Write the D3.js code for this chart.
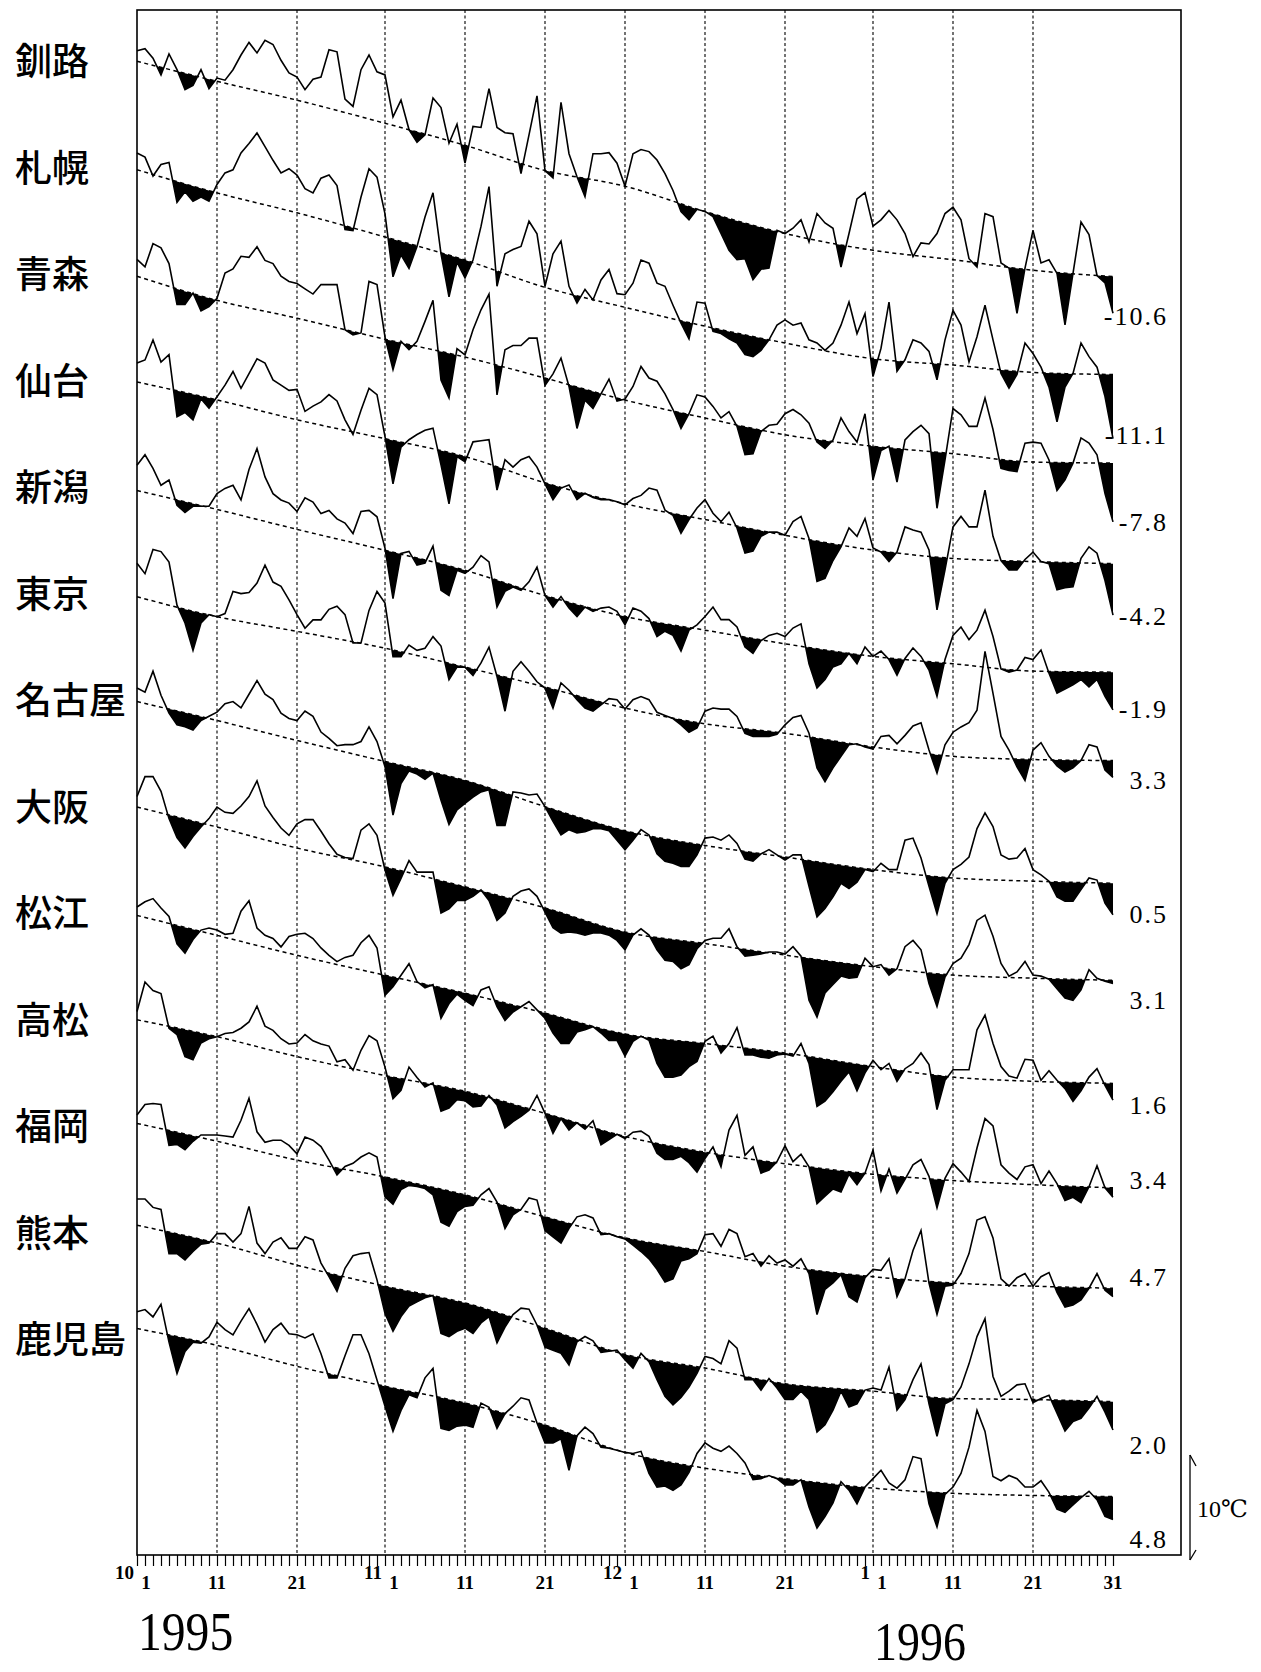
<!DOCTYPE html>
<html><head><meta charset="utf-8">
<script src="https://cdn.jsdelivr.net/npm/d3@7/dist/d3.min.js"></script>
<style>body{margin:0;background:#fff}</style>
</head><body>
<svg id="c" width="1261" height="1672"></svg>
<script>
// ---------------- DATA (daily mean temperature, °C, 1995-10-01 .. 1996-01-31) ----------------
const stations = ["釧路","札幌","青森","仙台","新潟","東京","名古屋","大阪","松江","高松","福岡","熊本","鹿児島"];
const endLabels = ["-10.6","-11.1","-7.8","-4.2","-1.9","3.3","0.5","3.1","1.6","3.4","4.7","2.0","4.8"];
const monthLabels = ["10","11","12","1"];
const monthStartDays = [0,31,61,92];
const dayTickLabels = ["1","11","21","1","11","21","1","11","21","1","11","21","31"];
const dayTickDays = [0,10,20,31,41,51,61,71,81,92,102,112,122];
const yearLabels = ["1995","1996"];
const normalDays = [0,10,20,31,41,51,61,71,81,92,102,112,122];

const kushiro = [14.4,14.6,13.7,12.1,14.1,12.6,10.7,11.1,12.6,10.8, 11.8,11.6,12.6,14.0,15.2,14.2,15.4,15.0,13.5,12.3, 11.9,10.7,11.7,11.9,14.5,14.3,9.8,9.1,12.6,14.0, 12.4,12.1,8.1,9.7,6.9,5.7,6.4,9.9,9.0,5.6, 7.4,3.7,7.2,7.1,10.8,7.1,6.6,6.5,2.7,6.4, 10.1,3.0,2.3,9.5,4.6,2.4,0.5,4.6,4.6,4.7, 3.7,1.5,4.6,5.0,4.8,4.0,2.7,1.1,-0.9,-1.7, -0.7,-0.9,-1.4,-3.0,-4.6,-5.5,-5.4,-7.4,-6.4,-6.3, -2.7,-3.0,-2.5,-1.7,-3.8,-1.1,-2.0,-2.5,-6.2,-3.0, 0.3,0.9,-2.3,-1.7,-0.8,-1.7,-3.0,-5.2,-3.9,-4.0, -3.0,-1.1,-0.5,-1.7,-5.4,-6.2,-1.1,-1.4,-5.8,-6.3, -10.6,-6.3,-2.7,-5.8,-5.5,-6.8,-11.7,-6.8,-1.9,-3.1, -7.0,-7.7,-10.6];
const sapporo = [16.1,15.7,13.9,15.0,15.2,11.4,12.4,11.5,11.9,11.5, 13.1,14.2,14.5,16.1,17.0,18.0,16.7,15.4,14.2,14.6, 14.0,12.7,12.3,13.7,14.0,13.0,8.8,8.7,11.9,14.6, 13.8,10.3,4.3,6.4,5.1,7.2,10.0,12.3,6.5,2.4, 5.7,4.2,5.9,9.1,12.9,3.4,6.5,6.9,7.2,9.6, 8.4,3.4,6.5,7.7,3.4,1.8,3.1,2.1,4.0,5.0, 2.7,2.6,3.7,5.9,5.6,3.7,3.4,1.6,-0.1,-1.6, 1.9,1.8,-0.9,-1.1,-1.6,-2.0,-3.1,-3.3,-2.7,-1.7, -0.3,0.2,-0.3,-0.1,-1.7,-2.0,-2.7,-2.0,-0.3,1.9, -1.1,0.8,-5.2,-2.5,1.9,-4.7,-3.6,-1.7,-2.0,-2.8, -5.5,-1.7,1.1,-0.3,-3.8,-1.4,1.6,-1.7,-4.9,-6.3, -5.0,-2.0,-3.0,-4.3,-6.2,-9.5,-6.2,-4.9,-2.0,-3.3, -4.3,-7.1,-11.1];
const aomori = [17.2,16.5,18.7,18.3,16.8,12.9,12.9,14.0,12.3,12.7, 13.5,15.9,16.3,17.5,17.4,18.4,17.1,16.8,15.6,15.1, 14.9,14.4,13.9,14.8,14.8,14.8,10.5,10.0,10.2,15.1, 14.8,9.8,6.7,9.4,8.6,9.4,11.3,13.3,5.7,4.0, 8.7,8.1,10.5,12.4,13.9,4.3,8.6,9.0,9.0,9.7, 9.7,5.2,6.3,7.8,5.1,1.1,3.8,3.0,4.4,5.8, 3.7,3.9,5.1,7.0,5.9,5.6,4.4,2.9,1.1,2.5, 4.3,4.1,3.2,2.1,2.7,1.3,-1.4,-1.3,0.8,1.4, 1.5,2.5,2.9,2.4,1.6,-0.2,-0.8,0.0,2.1,0.8, -0.2,2.5,-3.8,-1.0,-0.6,-4.0,0.0,0.8,1.4,0.6, -6.5,-1.9,3.0,2.4,1.3,1.3,4.0,1.0,-2.7,-2.9, -3.0,-0.3,-0.2,-0.3,-1.9,-4.8,-3.8,-2.2,0.2,-0.3, -1.4,-5.1,-7.8];
const sendai = [19.8,20.1,22.0,19.9,20.6,14.7,15.1,14.4,16.4,15.5, 16.6,17.7,19.0,17.4,18.8,20.2,19.8,18.2,17.7,17.2, 17.3,15.2,15.7,16.1,16.8,16.2,14.4,13.0,15.3,17.4, 16.8,12.8,8.3,11.8,12.5,13.0,13.4,13.6,10.1,6.4, 10.9,10.4,12.3,12.4,12.5,7.7,10.6,9.9,10.6,10.9, 9.9,8.3,6.8,7.9,8.2,6.8,7.4,7.0,6.8,6.8, 6.6,6.3,6.9,7.2,7.9,7.7,5.8,5.3,3.6,4.9, 6.0,6.8,5.5,4.7,5.6,4.1,1.7,1.9,3.3,3.7, 3.7,3.4,4.7,5.2,3.1,-1.0,-0.7,1.0,2.3,4.1, 3.3,5.0,2.2,1.8,0.9,1.8,4.2,3.9,3.7,2.0, -3.7,0.1,4.2,5.2,4.2,4.2,7.7,3.3,1.0,0.1, 0.1,1.1,1.8,0.9,0.7,-1.8,-1.6,-1.5,1.2,2.3, 1.7,-0.9,-4.2];
const niigata = [21.4,22.4,21.1,19.5,20.0,17.6,16.9,17.5,17.5,17.5, 18.7,19.2,19.5,18.1,21.0,23.0,20.3,18.7,18.1,17.8, 17.0,18.3,17.9,16.8,17.1,16.3,15.9,14.9,17.0,17.1, 16.5,13.5,8.7,13.0,13.2,11.9,12.1,13.7,9.5,9.0, 11.4,11.1,11.7,12.8,12.2,7.9,9.4,9.8,9.5,10.3, 11.7,9.0,7.9,8.9,7.8,7.0,7.9,7.5,7.8,7.9, 7.5,6.2,7.8,7.5,6.8,5.1,5.6,5.2,3.7,5.7, 6.2,7.0,7.9,6.7,6.7,6.0,4.1,3.5,4.7,5.2, 5.4,5.1,5.9,6.3,2.5,0.2,1.0,2.2,2.5,3.5, 2.5,4.1,3.2,3.7,2.9,1.4,3.0,4.0,3.2,1.9, -0.6,2.9,5.2,6.0,4.8,5.7,7.6,5.1,2.0,1.7, 1.9,3.1,2.9,3.8,1.6,-0.3,0.1,0.5,1.0,0.3, 1.0,-0.6,-1.9];
const tokyo = [23.7,22.7,25.0,24.8,23.8,19.7,18.0,15.4,18.0,18.8, 18.6,18.9,21.0,20.8,20.9,21.8,23.5,21.9,21.5,20.2, 18.8,17.5,18.3,18.3,19.3,19.6,18.8,16.1,16.1,19.2, 21.0,19.9,14.8,14.8,15.9,15.4,15.6,16.7,15.8,12.6, 13.8,13.8,13.0,14.2,15.7,12.9,9.6,13.4,14.3,13.4, 12.4,11.8,9.9,12.3,11.6,10.7,9.9,9.6,10.2,10.8, 10.7,9.8,10.7,11.0,10.7,9.5,9.2,8.9,8.3,7.6, 8.0,9.6,9.9,9.8,9.8,9.1,7.5,7.2,7.2,7.2, 7.4,8.3,9.0,9.2,7.5,4.2,2.9,4.2,5.3,6.4, 6.5,6.2,6.0,7.2,7.3,6.5,7.3,8.2,8.5,5.9, 3.7,6.4,7.6,8.1,8.5,9.7,15.3,11.3,7.2,5.9, 4.3,3.0,5.9,6.6,5.3,4.4,3.8,4.2,4.9,6.4, 6.2,4.0,3.3];
const nagoya = [22.1,21.7,23.7,21.4,19.7,18.6,18.4,18.1,19.0,19.4, 19.8,20.6,20.8,20.2,21.5,22.8,21.5,21.0,19.7,19.2, 19.0,19.9,19.4,17.9,17.3,16.6,16.7,16.7,17.0,18.4, 17.0,14.6,10.0,13.0,14.2,13.9,13.4,14.0,11.4,9.1, 10.5,11.1,11.7,12.2,12.4,9.0,9.0,12.2,12.1,11.9, 12.0,10.8,9.4,8.1,8.6,8.3,8.4,8.7,8.7,8.5, 7.6,6.7,7.6,8.6,8.1,6.3,5.6,5.4,5.1,5.1, 6.2,7.8,7.9,7.6,8.1,7.3,5.8,5.6,6.3,6.7, 6.2,5.7,6.2,6.2,3.2,0.3,1.1,2.2,3.5,3.0, 3.6,4.8,4.6,5.4,4.8,4.8,7.6,7.8,5.9,3.2, 0.6,3.5,4.8,5.3,6.0,8.7,10.2,8.9,6.2,5.8, 5.9,6.8,4.8,4.3,3.7,2.2,1.8,1.8,2.9,4.0, 3.8,1.6,0.5];
const osaka = [20.9,22.8,22.8,21.4,18.8,17.0,16.0,17.1,18.0,18.8, 19.9,19.4,19.3,20.0,20.9,22.4,20.0,18.9,17.9,17.2, 18.3,18.7,18.7,17.6,16.4,15.4,15.1,15.0,17.7,18.3, 17.2,13.9,11.5,13.1,14.8,13.7,13.7,13.7,9.8,10.2, 11.0,11.0,11.4,12.0,11.0,9.1,9.8,11.4,11.9,12.1, 11.4,9.9,8.4,7.9,8.0,7.9,7.7,7.9,7.9,7.7, 7.2,6.3,7.7,8.3,7.7,6.3,5.3,5.2,4.5,4.9, 6.4,7.2,7.4,7.4,8.3,6.6,5.7,5.8,5.9,6.1, 6.1,5.9,6.6,5.7,1.5,-0.1,2.2,3.0,3.8,3.6, 3.7,5.5,4.7,4.9,3.9,4.5,6.6,7.2,6.3,3.1, 0.9,3.7,5.0,5.5,6.8,9.1,9.6,7.6,5.0,3.8, 4.2,5.2,3.9,3.8,3.5,2.6,1.7,1.5,2.5,4.4, 3.6,3.3,3.1];
const matsue = [20.0,20.5,20.8,19.9,19.1,16.5,15.6,16.9,17.8,18.0, 17.8,17.4,17.5,19.6,20.6,18.0,17.3,17.0,16.2,17.2, 17.4,17.5,17.0,16.1,15.4,14.8,15.2,15.4,16.6,17.3, 16.1,11.6,12.4,13.5,14.6,12.9,12.3,12.6,9.4,10.8, 11.7,11.1,10.6,12.1,12.4,10.5,9.2,10.0,10.5,11.0, 10.2,9.4,8.0,7.0,7.0,8.1,8.3,8.6,8.0,7.3, 7.3,5.8,7.2,7.7,7.3,5.1,3.8,3.8,4.0,4.8, 5.3,7.2,7.7,6.1,7.0,8.5,5.9,5.9,5.7,5.6, 5.9,6.0,5.8,7.0,5.1,1.0,1.5,2.4,3.4,4.3, 2.5,4.2,5.4,4.5,5.1,3.4,4.6,5.1,6.1,5.0, 0.7,3.5,4.5,4.5,4.5,8.3,9.7,7.0,4.8,3.9, 3.7,5.5,5.4,3.5,4.4,3.5,2.7,1.5,2.5,3.8, 4.6,3.0,1.6];
const takamatsu = [21.1,23.9,23.1,22.8,19.5,18.9,16.8,16.5,18.1,18.5, 18.7,19.0,19.1,19.5,20.1,21.6,19.7,19.3,18.5,18.0, 18.1,18.9,18.3,18.0,17.8,16.3,16.5,15.5,17.4,18.8, 18.3,15.8,12.8,13.6,15.8,14.8,13.9,14.3,11.6,11.9, 12.7,12.6,12.0,12.1,13.1,12.2,10.0,10.6,11.1,11.7, 13.1,11.4,9.5,10.9,9.8,10.5,9.9,10.7,8.4,8.9, 9.4,9.0,9.6,9.7,9.2,7.6,7.0,7.0,7.3,6.7, 5.8,7.1,8.2,6.3,9.8,11.2,7.4,8.2,5.7,6.0, 6.8,8.3,6.8,7.5,6.3,2.8,3.5,4.2,3.9,5.6, 4.6,5.7,7.9,4.0,6.1,3.8,5.1,6.5,7.0,5.4, 2.4,5.2,6.6,5.8,4.9,8.1,10.9,10.2,6.5,5.7, 5.1,6.3,6.5,4.7,5.9,4.7,3.1,3.4,2.9,4.4, 6.4,4.3,3.4];
const fukuoka = [22.0,23.0,23.1,23.0,19.1,19.2,18.7,19.5,20.1,20.1, 20.1,20.0,19.9,21.5,23.6,20.4,19.4,19.6,19.6,19.1, 18.3,19.9,19.6,19.0,17.7,16.3,17.1,17.4,18.0,18.4, 18.0,14.2,13.5,14.9,15.3,15.2,15.0,14.4,11.8,11.4, 12.8,13.3,13.4,14.4,15.0,13.7,11.2,12.5,13.0,14.1, 13.9,11.0,10.4,9.8,11.2,12.3,12.5,12.2,10.6,10.7, 10.4,10.2,9.6,9.0,8.3,7.3,6.1,6.4,8.1,8.3, 8.8,10.6,10.7,9.5,11.1,10.7,8.5,8.8,7.6,8.6, 7.9,8.2,7.6,8.3,6.9,3.0,5.4,6.0,6.8,4.7, 4.2,6.5,7.3,7.2,8.3,4.7,6.4,9.1,11.0,6.0, 3.0,5.7,5.8,6.9,8.8,12.0,12.3,10.3,6.4,5.7, 6.5,6.9,5.7,6.6,7.0,5.1,3.7,3.9,4.4,5.5, 6.9,5.3,4.7];
const kumamoto = [24.0,24.0,23.2,23.0,18.8,18.8,18.2,19.0,19.7,19.8, 20.7,20.7,19.9,20.7,23.3,19.8,18.8,19.9,20.3,19.3, 19.3,20.4,20.1,17.9,16.6,15.2,17.4,18.6,18.8,18.9, 16.3,13.1,11.4,12.8,13.8,14.2,14.6,14.8,11.2,10.9, 11.4,11.7,11.2,12.2,12.8,10.3,11.8,13.0,13.6,13.5, 12.0,9.9,9.6,9.3,8.2,10.4,10.9,10.5,9.4,9.5, 9.6,8.7,7.9,9.3,8.5,6.8,5.2,4.4,5.1,6.1, 7.4,9.0,8.8,8.3,10.5,9.8,6.8,6.8,5.8,6.9, 6.0,4.9,4.9,5.7,4.9,1.8,2.5,3.9,5.7,4.2, 4.5,5.8,6.0,5.8,8.0,3.9,4.9,6.8,8.3,4.5, 1.4,4.5,4.9,6.1,8.3,10.9,12.6,7.1,5.2,5.7, 6.3,6.4,4.6,5.0,5.3,3.6,1.9,2.8,3.1,4.1, 5.2,3.7,2.0];
const kagoshima = [24.6,24.8,24.1,25.3,21.7,18.7,20.8,21.7,21.6,22.2, 23.6,22.9,22.4,23.7,24.9,23.4,21.7,22.9,23.5,22.5, 22.4,22.1,22.5,20.6,18.3,18.3,20.4,22.4,22.4,20.6, 18.1,15.6,13.2,15.2,16.7,16.4,18.3,19.2,13.5,13.3, 13.7,13.8,13.6,15.9,15.5,13.5,14.9,15.6,16.4,16.2, 14.0,12.1,12.1,12.5,9.5,12.8,13.6,13.0,11.7,11.6, 11.4,11.2,11.1,11.3,9.2,7.9,8.0,7.6,8.1,9.3, 11.1,12.1,11.6,11.3,11.8,11.1,10.2,8.6,8.7,9.0, 8.7,8.1,8.1,8.6,6.0,4.0,5.1,6.4,8.4,7.6, 6.3,7.9,8.7,9.5,8.3,7.8,8.6,10.8,10.6,6.3, 4.1,7.2,7.9,9.2,11.7,15.2,13.2,8.9,8.5,9.0, 8.7,7.9,7.9,8.5,7.4,5.8,5.5,6.2,6.9,7.5, 6.7,5.1,4.8];

// normals (°C) at normalDays
const normKushiro   = [13.4,11.5,9.7,7.5,5.4,3.0,1.5,-0.9,-3.0,-4.6,-5.5,-6.5,-7.1];
const normSapporo   = [14.5,12.3,10.4,8.1,5.9,3.3,1.4,-0.4,-2.0,-3.5,-4.1,-4.8,-5.0];
const normAomori    = [15.6,13.3,11.6,9.6,7.9,5.9,3.8,2.1,0.5,-0.6,-1.3,-2.1,-2.2];
const normSendai    = [18.0,16.3,14.4,12.6,10.9,8.4,6.4,4.9,3.4,2.0,1.2,0.9,0.7];
const normNiigata   = [19.0,17.2,15.3,13.3,11.4,9.0,7.0,5.7,4.4,3.2,2.5,1.8,1.7];
const normTokyo     = [20.5,18.6,17.2,15.6,13.8,11.9,9.9,8.4,7.5,6.2,5.3,5.0,4.9];
const normNagoya    = [20.8,19.0,17.1,15.1,13.3,10.8,8.5,7.1,6.0,4.8,4.0,3.7,3.5];
const normOsaka     = [19.9,18.0,16.0,14.2,12.3,10.3,8.0,6.9,5.8,4.7,3.9,3.6,3.4];
const normMatsue    = [19.2,17.3,15.4,13.5,11.8,9.9,7.9,7.0,6.1,4.8,3.8,3.4,3.2];
const normTakamatsu = [20.3,18.7,16.8,15.0,13.5,11.4,9.2,7.7,6.6,5.6,5.0,4.6,4.3];
const normFukuoka   = [21.2,19.5,17.7,16.1,14.4,12.3,10.3,9.0,7.6,6.6,6.0,5.7,5.5];
const normKumamoto  = [21.5,19.8,17.7,15.7,14.1,11.7,9.2,7.9,6.4,5.7,5.0,4.9,4.7];
const normKagoshima = [23.0,21.4,19.4,17.5,15.9,13.8,11.2,9.7,8.7,7.8,7.3,7.1,7.0];

const series = [kushiro,sapporo,aomori,sendai,niigata,tokyo,nagoya,osaka,matsue,takamatsu,fukuoka,kumamoto,kagoshima];
const normals = [normKushiro,normSapporo,normAomori,normSendai,normNiigata,normTokyo,normNagoya,normOsaka,normMatsue,normTakamatsu,normFukuoka,normKumamoto,normKagoshima];

// ---------------- LAYOUT ----------------
const W = 1261, H = 1672;
const frame = {left:137, right:1181, top:10, bottom:1555};
const zeroY = [202,322,440,571,690,812,920,1016,1117,1233,1346,1451,1570]; // pixel row of 0°C per station
const endLabelY = [316,435,522,616,709,780,914,1000,1105,1180,1277,1445,1539];
const pxPer10 = 105;
const serif = "'Liberation Serif','DejaVu Serif',serif";
const cjk = "'Noto Sans CJK JP','Noto Sans CJK SC',sans-serif";

const svg = d3.select("#c");
svg.append("rect").attr("width",W).attr("height",H).attr("fill","#fff");

const x = d3.scaleLinear().domain([0,122]).range([137,1113]);
const defs = svg.append("defs");

// frame
svg.append("rect").attr("x",frame.left).attr("y",frame.top)
  .attr("width",frame.right-frame.left).attr("height",frame.bottom-frame.top)
  .attr("fill","none").attr("stroke","#000").attr("stroke-width",1.6);

// dashed dekad grid lines
const gridDays = [10,20,31,41,51,61,71,81,92,102,112];
svg.append("g").selectAll("line").data(gridDays).join("line")
  .attr("x1",d=>x(d)).attr("x2",d=>x(d)).attr("y1",frame.top).attr("y2",frame.bottom)
  .attr("stroke","#000").attr("stroke-width",1.1).attr("stroke-dasharray","3,2.5");

// stations
series.forEach((vals,i)=>{
  const ys = d3.scaleLinear().domain([0,10]).range([zeroY[i], zeroY[i]-pxPer10]);
  const norm = normals[i];
  const clipArea = d3.area().x((d,j)=>x(j)).y0(0).y1(d=>ys(d));
  defs.append("clipPath").attr("id","cl"+i).append("path").attr("d",clipArea(vals));
  const below = d3.area().x((d,j)=>x(normalDays[j])).y0(d=>ys(d)).y1(H).curve(d3.curveMonotoneX);
  svg.append("path").attr("d",below(norm)).attr("fill","#000").attr("clip-path","url(#cl"+i+")");
  const nline = d3.line().x((d,j)=>x(normalDays[j])).y(d=>ys(d)).curve(d3.curveMonotoneX);
  svg.append("path").attr("d",nline(norm)).attr("fill","none").attr("stroke","#000")
    .attr("stroke-width",1.5).attr("stroke-dasharray","4,3.5");
  const line = d3.line().x((d,j)=>x(j)).y(d=>ys(d));
  svg.append("path").attr("d",line(vals)).attr("fill","none").attr("stroke","#000")
    .attr("stroke-width",1.6).attr("stroke-linejoin","miter");
  // station name
  svg.append("text").attr("x",15).attr("y",62+106.5*i).attr("dy","0.36em")
    .attr("font-family",cjk).attr("font-weight",500).attr("font-size",37).attr("fill","#000").text(stations[i]);
  // end value label
  svg.append("text").attr("x",1168).attr("y",endLabelY[i]).attr("dy","0.35em")
    .attr("text-anchor","end").attr("font-family",serif).attr("font-size",26)
    .attr("letter-spacing",2).attr("fill","#000").text(endLabels[i]);
});

// day ticks via axis
const axis = d3.axisBottom(x).tickValues(d3.range(0,123)).tickSize(11).tickSizeOuter(0).tickFormat("");
const ag = svg.append("g").attr("transform",`translate(0,${frame.bottom})`).call(axis);
ag.select(".domain").remove();
ag.selectAll(".tick line").attr("stroke","#000").attr("stroke-width",1.2);

// day labels
svg.append("g").selectAll("text").data(dayTickDays).join("text")
  .attr("x",(d,i)=>x(d)+(dayTickLabels[i]==="1"?9:0)).attr("y",1589)
  .attr("text-anchor","middle").attr("font-family",serif).attr("font-size",19).attr("font-weight","bold")
  .text((d,i)=>dayTickLabels[i]);
// month labels
svg.append("g").selectAll("text").data(monthStartDays).join("text")
  .attr("x",d=>x(d)-3).attr("y",1579).attr("text-anchor","end")
  .attr("font-family",serif).attr("font-size",19).attr("font-weight","bold")
  .text((d,i)=>monthLabels[i]);

// years
svg.append("text").attr("transform","translate(138,1650) scale(0.85,1)")
  .attr("font-family",serif).attr("font-size",56).text(yearLabels[0]);
svg.append("text").attr("transform","translate(920,1660) scale(0.85,1)").attr("text-anchor","middle")
  .attr("font-family",serif).attr("font-size",54).text(yearLabels[1]);

// 10°C scale bar
const sb = svg.append("g");
const yb0 = 1560, yb1 = yb0 - pxPer10;
sb.append("line").attr("x1",1190).attr("x2",1190).attr("y1",yb1).attr("y2",yb0).attr("stroke","#000").attr("stroke-width",1.3);
sb.append("line").attr("x1",1190).attr("x2",1196).attr("y1",yb1).attr("y2",yb1+11).attr("stroke","#000").attr("stroke-width",1.3);
sb.append("line").attr("x1",1190).attr("x2",1196).attr("y1",yb0).attr("y2",yb0-10).attr("stroke","#000").attr("stroke-width",1.3);
sb.append("text").attr("x",1197).attr("y",1517).attr("font-family",serif).attr("font-size",24).text("10℃");
</script>
</body></html>
